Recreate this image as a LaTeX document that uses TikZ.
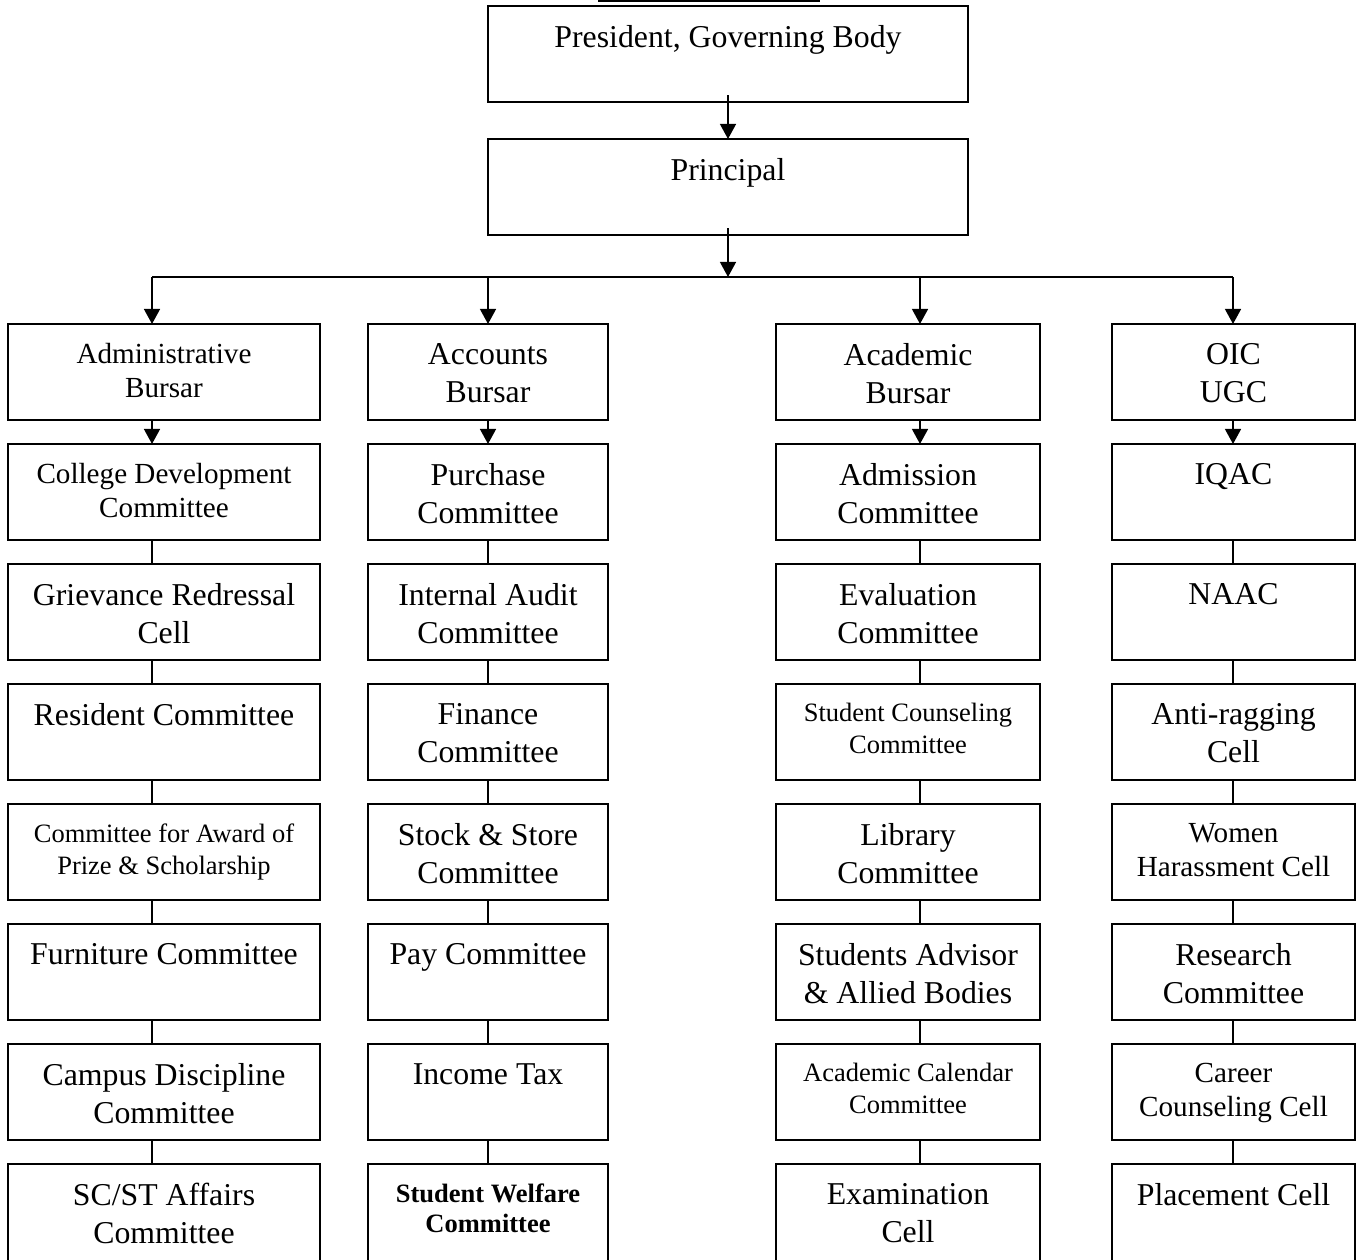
\documentclass[tikz,border=0pt]{standalone}
\usepackage{fontspec}
\setmainfont{Liberation Serif}
\usetikzlibrary{arrows.meta}
\newcommand\pxu{0.3774pt}
\tikzset{
  bx/.style={draw, line width=0.75pt, inner sep=0pt, outer sep=0pt},
  tL/.style={anchor=north, inner sep=0pt, align=center, font=\fontsize{12}{14.2}\selectfont},
  tM/.style={anchor=north, inner sep=0pt, align=center, font=\fontsize{11}{12.8}\selectfont},
  tS/.style={anchor=north, inner sep=0pt, align=center, font=\fontsize{10}{12}\selectfont},
  tB/.style={anchor=north, inner sep=0pt, align=center, font=\fontsize{10}{11.4}\selectfont\bfseries},
  ln/.style={line width=0.75pt},
  arr/.style={line width=0.75pt, -{Triangle[length=5.7pt, width=6pt]}},
}
% name, cx, top, width, height, text style, text
\newcommand\orgbox[7]{%
  \node[bx, minimum width=#4*\pxu, minimum height=#5*\pxu] (#1) at (#2,#3+#5/2) {};
  \node[#6] (#1t) at (#2,#3+19) {#7};
}
\begin{document}
\begin{tikzpicture}[x=0.3774pt, y=-0.3774pt]
\useasboundingbox (0,0) rectangle (1357,1259);
\clip (0,0) rectangle (1357,1259);

% title underline (cut off at the top)
\coordinate (ulA) at (598,1);
\coordinate (ulB) at (820,1);
\draw[line width=0.75pt] (ulA) -- (ulB);

% top boxes
\orgbox{gb}{728}{6}{480}{96}{tL}{President, Governing Body}
\orgbox{pr}{728}{139}{480}{96}{tL}{Principal}

% connector columns
\coordinate (cA) at (152,277);
\coordinate (cB) at (488,277);
\coordinate (cC) at (920,277);
\coordinate (cD) at (1233,277);
\coordinate (bus) at (728,277);

% column 1
\orgbox{a0}{164}{324}{312}{96}{tM}{Administrative\\Bursar}
\orgbox{a1}{164}{444}{312}{96}{tM}{College Development\\Committee}
\orgbox{a2}{164}{564}{312}{96}{tL}{Grievance Redressal\\Cell}
\orgbox{a3}{164}{684}{312}{96}{tL}{Resident Committee}
\orgbox{a4}{164}{804}{312}{96}{tS}{Committee for Award of\\Prize \& Scholarship}
\orgbox{a5}{164}{924}{312}{96}{tL}{Furniture Committee}
\orgbox{a6}{164}{1044}{312}{96}{tL}{Campus Discipline\\Committee}
\orgbox{a7}{164}{1164}{312}{104}{tL}{SC/ST Affairs\\Committee}

% column 2
\orgbox{b0}{488}{324}{240}{96}{tL}{Accounts\\Bursar}
\orgbox{b1}{488}{444}{240}{96}{tL}{Purchase\\Committee}
\orgbox{b2}{488}{564}{240}{96}{tL}{Internal Audit\\Committee}
\orgbox{b3}{488}{684}{240}{96}{tL}{Finance\\Committee}
\orgbox{b4}{488}{804}{240}{96}{tL}{Stock \& Store\\Committee}
\orgbox{b5}{488}{924}{240}{96}{tL}{Pay Committee}
\orgbox{b6}{488}{1044}{240}{96}{tL}{Income Tax}
\orgbox{b7}{488}{1164}{240}{104}{tB}{Student Welfare\\Committee}

% column 3
\orgbox{c0}{908}{324}{264}{96}{tL}{Academic\\Bursar}
\orgbox{c1}{908}{444}{264}{96}{tL}{Admission\\Committee}
\orgbox{c2}{908}{564}{264}{96}{tL}{Evaluation\\Committee}
\orgbox{c3}{908}{684}{264}{96}{tS}{Student Counseling\\Committee}
\orgbox{c4}{908}{804}{264}{96}{tL}{Library\\Committee}
\orgbox{c5}{908}{924}{264}{96}{tL}{Students Advisor\\\& Allied Bodies}
\orgbox{c6}{908}{1044}{264}{96}{tS}{Academic Calendar\\Committee}
\orgbox{c7}{908}{1164}{264}{104}{tL}{Examination\\Cell}

% column 4
\orgbox{d0}{1233.5}{324}{243}{96}{tL}{OIC\\UGC}
\orgbox{d1}{1233.5}{444}{243}{96}{tL}{IQAC}
\orgbox{d2}{1233.5}{564}{243}{96}{tL}{NAAC}
\orgbox{d3}{1233.5}{684}{243}{96}{tL}{Anti-ragging\\Cell}
\orgbox{d4}{1233.5}{804}{243}{96}{tM}{Women\\Harassment Cell}
\orgbox{d5}{1233.5}{924}{243}{96}{tL}{Research\\Committee}
\orgbox{d6}{1233.5}{1044}{243}{96}{tM}{Career\\Counseling Cell}
\orgbox{d7}{1233.5}{1164}{243}{104}{tL}{Placement Cell}

% top arrows
\draw[arr] ([yshift=2.6pt]gb.south) -- (pr.north);
\draw[arr] ([yshift=2.6pt]pr.south) -- (bus);
\draw[ln] (cA) -- (cD);
\draw[arr] (cA) -- (a0.north -| cA);
\draw[arr] (cB) -- (b0.north -| cB);
\draw[arr] (cC) -- (c0.north -| cC);
\draw[arr] (cD) -- (d0.north -| cD);

% bursar to first committee
\draw[arr] (a0.south -| cA) -- (a1.north -| cA);
\draw[arr] (b0.south -| cB) -- (b1.north -| cB);
\draw[arr] (c0.south -| cC) -- (c1.north -| cC);
\draw[arr] (d0.south -| cD) -- (d1.north -| cD);

% plain links
\foreach \i [evaluate=\i as \j using int(\i+1)] in {1,...,6} {
  \draw[ln] (a\i.south -| cA) -- (a\j.north -| cA);
  \draw[ln] (b\i.south -| cB) -- (b\j.north -| cB);
  \draw[ln] (c\i.south -| cC) -- (c\j.north -| cC);
  \draw[ln] (d\i.south -| cD) -- (d\j.north -| cD);
}
\end{tikzpicture}
\end{document}
